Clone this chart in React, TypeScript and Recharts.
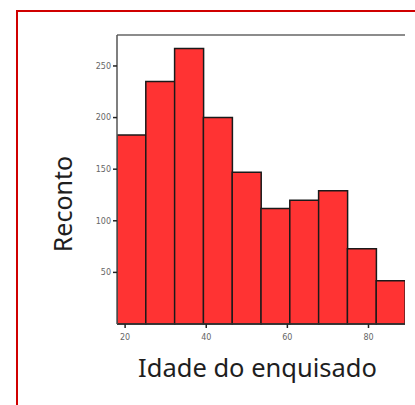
import React from 'react';
import { BarChart, Bar, XAxis, YAxis, ReferenceLine, Label } from 'recharts';

// histogram bins (age of respondent): bin midpoints and their counts
const ageMidpoints = [21.55, 28.65, 35.75, 42.85, 49.95, 57.05, 64.15, 71.25, 78.35, 85.45];
const counts = [183, 235, 267, 200, 147, 112, 120, 129, 73, 42];
const ageTicks = [20, 40, 60, 80];
const countTicks = [50, 100, 150, 200, 250];
const ageRange = [18, 89];
const countMax = 280;

const data = ageMidpoints.map((age, i) => ({ age, count: counts[i] }));

const titleFont = '"Noto Sans", sans-serif';

const App: React.FC = () => {
  return (
    <div style={{ position: 'absolute', left: 0, top: 0, width: 415, height: 405, overflow: 'hidden', background: '#fff' }}>
      <div
        style={{
          position: 'absolute',
          left: 16,
          top: 10,
          width: 440,
          height: 440,
          border: '2px solid #d00000',
        }}
      />
      <div style={{ position: 'absolute', left: 0, top: 0 }}>
        <BarChart width={405} height={405} data={data} margin={{ top: 35, right: 0, bottom: 0, left: 0 }} barCategoryGap={0}>
          <XAxis
            dataKey="age"
            type="number"
            domain={ageRange}
            allowDataOverflow
            ticks={ageTicks}
            height={81}
            axisLine={{ stroke: '#333', strokeWidth: 1.5 }}
            tickLine={{ stroke: '#222', strokeWidth: 1.5 }}
            tickSize={4}
            tickMargin={6}
            tick={{ fill: '#666', fontSize: 8, fontFamily: 'DejaVu Sans' }}
          >
            <Label
              content={() => (
                <text x={257.5} y={376.7} textAnchor="middle" fontSize={25.5} fontFamily={titleFont} fill="#1e1e1e">
                  Idade do enquisado
                </text>
              )}
            />
          </XAxis>
          <YAxis
            domain={[0, countMax]}
            ticks={countTicks}
            width={117}
            axisLine={{ stroke: '#555', strokeWidth: 1.5 }}
            tickLine={{ stroke: '#222', strokeWidth: 1.5 }}
            tickSize={4}
            tickMargin={2}
            tick={{ fill: '#666', fontSize: 8, fontFamily: 'DejaVu Sans' }}
          >
            <Label
              content={() => (
                <text
                  x={72}
                  y={204}
                  textAnchor="middle"
                  transform="rotate(-90, 72, 204)"
                  fontSize={25}
                  fontFamily={titleFont}
                  fill="#1e1e1e"
                >
                  Reconto
                </text>
              )}
            />
          </YAxis>
          <ReferenceLine y={countMax} stroke="#666" strokeWidth={1.5} ifOverflow="visible" />
          <Bar dataKey="count" fill="#ff3333" stroke="#1a1a1a" strokeWidth={1.5} isAnimationActive={false} />
        </BarChart>
      </div>
    </div>
  );
};

export default App;
